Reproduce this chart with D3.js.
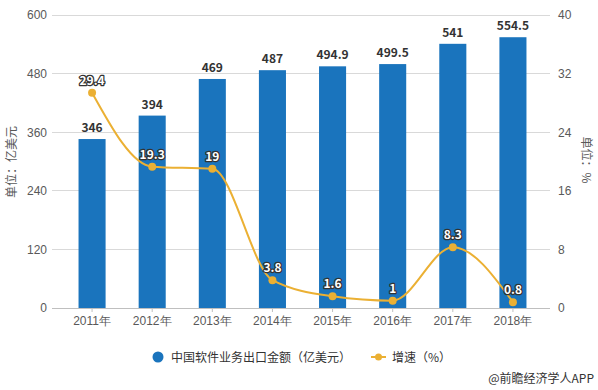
<!DOCTYPE html>
<html><head><meta charset="utf-8">
<script src="https://cdn.jsdelivr.net/npm/d3@7"></script>
<style>
body{margin:0;background:#fff;}
svg{display:block;font-family:"Noto Sans CJK SC","Microsoft YaHei",sans-serif;}
</style></head>
<body><svg id="c" width="598" height="390"></svg>
<script>
const years = ["2011年","2012年","2013年","2014年","2015年","2016年","2017年","2018年"];
const exportValues = [346, 394, 469, 487, 494.9, 499.5, 541, 554.5];
const growthRates = [29.4, 19.3, 19, 3.8, 1.6, 1, 8.3, 0.8];
const leftTicks = [0, 120, 240, 360, 480, 600];
const rightTicks = [0, 8, 16, 24, 32, 40];
const barName = "中国软件业务出口金额（亿美元）";
const lineName = "增速（%）";
const leftTitle = "单位：亿美元";
const rightTitle = "单位：%";
const credit = "@前瞻经济学人APP";

const barColor = "#1a74bd", lineColor = "#ebb033";
const svg = d3.select("#c");
const plotL = 52, plotR = 550, plotTop = 15, plotBottom = 308;

const x = d3.scaleBand().domain(years).range([62, 543]).paddingInner(0.55).paddingOuter(0.275);
const yL = d3.scaleLinear().domain([0, 600]).range([plotBottom, plotTop]);
const yR = d3.scaleLinear().domain([0, 40]).range([plotBottom, plotTop]);

// gridlines
svg.append("g").selectAll("line").data(leftTicks.slice(1)).join("line")
  .attr("x1", plotL).attr("x2", plotR)
  .attr("y1", d => yL(d)).attr("y2", d => yL(d))
  .attr("stroke", "#d9d9d9").attr("stroke-width", 1).attr("shape-rendering","crispEdges");

// left axis
const la = svg.append("g").attr("transform", `translate(${plotL},0)`)
  .call(d3.axisLeft(yL).tickValues(leftTicks).tickSize(0).tickPadding(5));
la.select(".domain").remove();
la.selectAll("text").attr("fill", "#595959").style("font-size", "12px").style("font-family","inherit");

// right axis
const ra = svg.append("g").attr("transform", `translate(${plotR},0)`)
  .call(d3.axisRight(yR).tickValues(rightTicks).tickSize(0).tickPadding(8));
ra.select(".domain").remove();
ra.selectAll("text").attr("fill", "#595959").style("font-size", "12px").style("font-family","inherit");

// bars
svg.append("g").selectAll("rect").data(exportValues).join("rect")
  .attr("x", (d,i) => x(years[i])).attr("width", x.bandwidth())
  .attr("y", d => yL(d)).attr("height", d => plotBottom - yL(d))
  .attr("fill", barColor);

// x axis
const xa = svg.append("g").attr("transform", `translate(0,${plotBottom})`)
  .call(d3.axisBottom(x).tickSize(4).tickPadding(4));
xa.select(".domain").attr("d", `M${plotL},0.5H${plotR}`).attr("stroke", "#bfbfbf");
xa.selectAll(".tick line").attr("stroke", "#bfbfbf");
xa.selectAll("text").attr("fill", "#595959").style("font-size", "12px").style("font-family","inherit");

// bar labels
svg.append("g").selectAll("text").data(exportValues).join("text")
  .attr("x", (d,i) => x(years[i]) + x.bandwidth()/2)
  .attr("y", d => yL(d) - 7)
  .attr("text-anchor", "middle").attr("fill", "#333")
  .style("font-size", "12px").style("font-weight", "bold")
  .text(d => d);

// line
const cx = i => x(years[i]) + x.bandwidth()/2;
const line = d3.line().x((d,i) => cx(i)).y(d => yR(d)).curve(d3.curveMonotoneX);
svg.append("path").datum(growthRates).attr("d", line)
  .attr("fill", "none").attr("stroke", lineColor).attr("stroke-width", 2);
svg.append("g").selectAll("circle").data(growthRates).join("circle")
  .attr("cx", (d,i) => cx(i)).attr("cy", d => yR(d)).attr("r", 4)
  .attr("fill", lineColor);
svg.append("g").selectAll("text").data(growthRates).join("text")
  .attr("x", (d,i) => cx(i)).attr("y", d => yR(d) - 8)
  .attr("text-anchor", "middle").attr("fill", "#fff")
  .attr("stroke", "#333").attr("stroke-width", 2.5).attr("paint-order", "stroke")
  .attr("stroke-linejoin","round")
  .style("font-size", "12px").style("font-weight", "bold")
  .text(d => d);

// axis titles
svg.append("text").attr("transform", "translate(16,162) rotate(-90)")
  .attr("text-anchor", "middle").attr("fill", "#595959").style("font-size", "12px").text(leftTitle);
svg.append("text").attr("transform", "translate(582,160) rotate(90)")
  .attr("text-anchor", "middle").attr("fill", "#595959").style("font-size", "12px").text(rightTitle);

// legend
const lg = svg.append("g");
lg.append("circle").attr("cx", 158).attr("cy", 357).attr("r", 5.5).attr("fill", barColor);
lg.append("text").attr("x", 171).attr("y", 361.5).attr("fill", "#333").style("font-size", "12px").text(barName);
lg.append("line").attr("x1", 371).attr("x2", 386).attr("y1", 357).attr("y2", 357).attr("stroke", lineColor).attr("stroke-width", 2);
lg.append("circle").attr("cx", 378.5).attr("cy", 357).attr("r", 3.5).attr("fill", lineColor);
lg.append("text").attr("x", 392).attr("y", 361.5).attr("fill", "#333").style("font-size", "12px").text(lineName);

svg.append("text").attr("x", 594).attr("y", 383).attr("text-anchor", "end")
  .attr("fill", "#333").style("font-size", "12px").text(credit);
</script></body></html>
